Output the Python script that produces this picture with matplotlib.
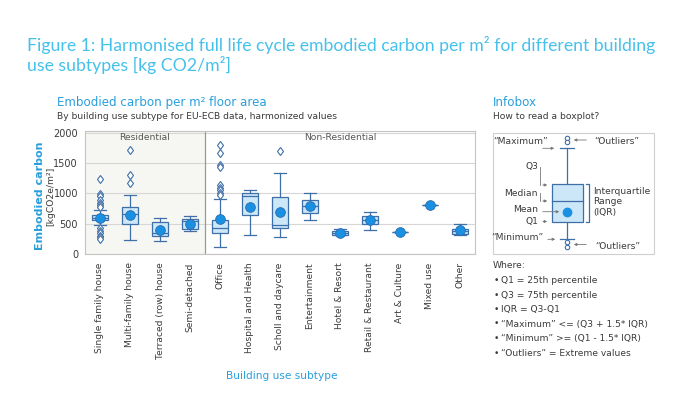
import numpy as np
import matplotlib.pyplot as plt
from matplotlib.patches import Rectangle

# ---- data (kgCO2e/m2) ----
categories = ["Single family house", "Multi-family house", "Terraced (row) house",
              "Semi-detached", "Office", "Hospital and Health", "Scholl and daycare",
              "Entertainment", "Hotel & Resort", "Retail & Restaurant", "Art & Culture",
              "Mixed use", "Other"]
q1 = [555, 500, 300, 420, 340, 645, 425, 670, 318, 500, 370, 808, 330]
median = [600, 660, 340, 545, 425, 955, 480, 785, 350, 568, 370, 808, 380]
q3 = [650, 770, 525, 570, 555, 1010, 935, 895, 380, 632, 370, 808, 415]
whislo = [480, 235, 220, 377, 120, 315, 275, 555, 306, 393, 370, 808, 317]
whishi = [730, 980, 590, 632, 905, 1060, 1340, 1005, 405, 688, 370, 808, 490]
means = [590, 645, 400, 502, 572, 780, 700, 785, 344, 557, 370, 808, 388]
fliers = [
    [1235, 995, 955, 890, 845, 805, 780, 425, 380, 345, 305, 275, 240],
    [1720, 1310, 1175],
    [], [],
    [1800, 1670, 1475, 1440, 1135, 1090, 1050, 1010, 970],
    [],
    [1695],
    [], [], [], [], [], [],
]
n_residential = 4
yticks = [0, 500, 1000, 1500, 2000]

# infobox schematic values (in figure pixels)
info_box = dict(q1=221.7, med=201, q3=184.3, lo=239.3, hi=148.3, mean=211.7)
info_outliers = [137.7, 142.3, 242.3, 246.7]
where_lines = ["Q1 = 25th percentile", "Q3 = 75th percentile", "IQR = Q3-Q1",
               "\u201cMaximum\u201d <= (Q3 + 1.5* IQR)",
               "\u201cMinimum\u201d >= (Q1 - 1.5* IQR)",
               "\u201cOutliers\u201d = Extreme values"]

TITLE_C = "#45c1ec"
HEAD_C = "#2a9fdc"
TXT_C = "#3a3a3a"
EDGE_C = "#3f6fa8"
FACE_C = "#cbe7f8"
MEAN_C = "#1a90e3"

W, H = 699, 398
fig = plt.figure(figsize=(W / 100, H / 100), dpi=100)

# ---- main boxplot ----
ax = fig.add_axes([85 / W, 1 - 254 / H, 390 / W, 123 / H])
stats = []
for i in range(len(categories)):
    stats.append(dict(q1=q1[i], med=median[i], q3=q3[i], whislo=whislo[i],
                      whishi=whishi[i], mean=means[i], fliers=fliers[i]))
pos = np.arange(1, len(categories) + 1)
ax.bxp(stats, positions=pos, widths=0.52, capwidths=0.4, showmeans=True,
       patch_artist=True,
       boxprops=dict(facecolor=FACE_C, edgecolor=EDGE_C, linewidth=0.9),
       medianprops=dict(color=EDGE_C, linewidth=0.9),
       whiskerprops=dict(color=EDGE_C, linewidth=0.9),
       capprops=dict(color=EDGE_C, linewidth=0.9),
       meanprops=dict(marker="o", markerfacecolor=MEAN_C, markeredgecolor="#2a6db0",
                      markeredgewidth=0.6, markersize=7),
       flierprops=dict(marker="d", markerfacecolor="white", markeredgecolor=EDGE_C,
                       markeredgewidth=0.8, markersize=4.5))

ax.set_xlim(0.5, len(categories) + 0.5)
ax.set_ylim(0, 2030)
ax.axvspan(0.5, n_residential + 0.5, color="#f6f6f3", zorder=0)
ax.axvline(n_residential + 0.5, color="#9a9a9a", lw=0.9, zorder=1)
ax.set_yticks(yticks)
ax.set_yticklabels([str(v) for v in yticks])
ax.yaxis.grid(True, color="#d6d6d6", lw=0.8, zorder=0)
ax.set_axisbelow(True)
ax.set_xticks(pos)
ax.set_xticklabels(categories, rotation=90, fontsize=6.6, color=TXT_C)
ax.tick_params(axis="y", length=0, labelsize=7, labelcolor=TXT_C, pad=5)
ax.tick_params(axis="x", length=0, pad=6)
for s in ax.spines.values():
    s.set_color("#c4c4c4")
    s.set_linewidth(0.8)
ax.text((n_residential + 1) / 2, 1990, "Residential", ha="center", va="top",
        fontsize=6.6, color="#555555")
ax.text((n_residential + 1 + len(categories)) / 2, 1990, "Non-Residential",
        ha="center", va="top", fontsize=6.6, color="#555555")

# ---- overlay in pixel coordinates for texts and infobox ----
ov = fig.add_axes([0, 0, 1, 1], facecolor="none")
ov.set_xlim(0, W)
ov.set_ylim(H, 0)
ov.axis("off")

ov.text(27, 51, "Figure 1: Harmonised full life cycle embodied carbon per m\u00b2 for different building",
        fontsize=12.7, color=TITLE_C, family="Lato", va="baseline")
ov.text(27, 71, "use subtypes [kg CO2/m\u00b2]",
        fontsize=12.7, color=TITLE_C, family="Lato", va="baseline")

ov.text(57, 106, "Embodied carbon per m\u00b2 floor area", fontsize=8.6, color=HEAD_C,
        va="baseline")
ov.text(57, 119, "By building use subtype for EU-ECB data, harmonized values",
        fontsize=6.6, color=TXT_C, va="baseline")
ov.text(40, 196, "Embodied carbon", fontsize=8, color=HEAD_C, rotation=90,
        ha="center", va="center", weight="bold")
ov.text(51, 196, "[kgCO2e/m\u00b2]", fontsize=6.6, color=TXT_C, rotation=90,
        ha="center", va="center")
ov.text(282, 376, "Building use subtype", fontsize=7.6, color=HEAD_C,
        ha="center", va="center")

# infobox
ov.text(493, 106, "Infobox", fontsize=8.6, color=HEAD_C, va="baseline")
ov.text(493, 119, "How to read a boxplot?", fontsize=6.6, color=TXT_C, va="baseline")
ov.add_patch(Rectangle((493, 133), 161, 121, facecolor="white", edgecolor="#cfcfcf", lw=0.8))

cx, bw = 567, 31
b = info_box
ov.add_patch(Rectangle((cx - bw / 2, b["q3"]), bw, b["q1"] - b["q3"],
                       facecolor=FACE_C, edgecolor=EDGE_C, lw=0.9, zorder=3))
ov.plot([cx - bw / 2, cx + bw / 2], [b["med"]] * 2, color=EDGE_C, lw=0.9, zorder=4)
ov.plot([cx, cx], [b["hi"], b["q3"]], color=EDGE_C, lw=0.9)
ov.plot([cx, cx], [b["q1"], b["lo"]], color=EDGE_C, lw=0.9)
for yy in (b["hi"], b["lo"]):
    ov.plot([cx - 7, cx + 7], [yy, yy], color=EDGE_C, lw=0.9)
ov.plot([cx], [b["mean"]], marker="o", color=MEAN_C, markersize=6, zorder=5)
ov.plot([cx] * len(info_outliers), info_outliers, ls="none", marker="o",
        markerfacecolor="white", markeredgecolor=EDGE_C, markersize=3.2, mew=0.8)
# IQR bracket
ov.plot([586, 589, 589, 586], [b["q3"], b["q3"], b["q1"], b["q1"]], color=EDGE_C, lw=0.9)
for k, t in enumerate(["Interquartile", "Range", "(IQR)"]):
    ov.text(593, 191 + k * 11, t, fontsize=6.6, color=TXT_C, va="center")

arr = dict(arrowstyle="-|>", color="#777777", lw=0.6, mutation_scale=4)
lab = dict(fontsize=6.6, color=TXT_C, va="center")
ov.text(548, 142, "\u201cMaximum\u201d", ha="right", **lab)
ov.annotate("", xy=(557, b["hi"]), xytext=(540, b["hi"]), arrowprops=arr)
ov.text(594, 141.5, "\u201cOutliers\u201d", ha="left", **lab)
ov.annotate("", xy=(571, 140), xytext=(589, 140), arrowprops=arr)
ov.text(595, 246.5, "\u201cOutliers\u201d", ha="left", **lab)
ov.annotate("", xy=(571, 244.5), xytext=(589, 244.5), arrowprops=arr)
ov.text(543, 238, "\u201cMinimum\u201d", ha="right", **lab)
ov.annotate("", xy=(558, b["lo"]), xytext=(545, b["lo"]), arrowprops=arr)
ov.text(538, 167, "Q3", ha="right", **lab)
ov.plot([540, 540], [167, 185], color="#777777", lw=0.6)
ov.annotate("", xy=(550, 185), xytext=(540, 185), arrowprops=arr)
ov.text(538, 193, "Median", ha="right", **lab)
ov.plot([540, 540], [193, 201], color="#777777", lw=0.6)
ov.annotate("", xy=(550, 201), xytext=(540, 201), arrowprops=arr)
ov.text(538, 209, "Mean", ha="right", **lab)
ov.annotate("", xy=(562, b["mean"]), xytext=(540, b["mean"]), arrowprops=arr)
ov.text(538, 221.5, "Q1", ha="right", **lab)
ov.annotate("", xy=(550, 221.5), xytext=(540, 221.5), arrowprops=arr)

ov.text(493, 266, "Where:", fontsize=6.6, color=TXT_C, va="center")
for k, t in enumerate(where_lines):
    yy = 280.5 + k * 14.5
    ov.text(494, yy, "\u2022", fontsize=6.6, color=TXT_C, va="center")
    ov.text(501, yy, t, fontsize=6.6, color=TXT_C, va="center")

fig.savefig("out.png", dpi=100)
